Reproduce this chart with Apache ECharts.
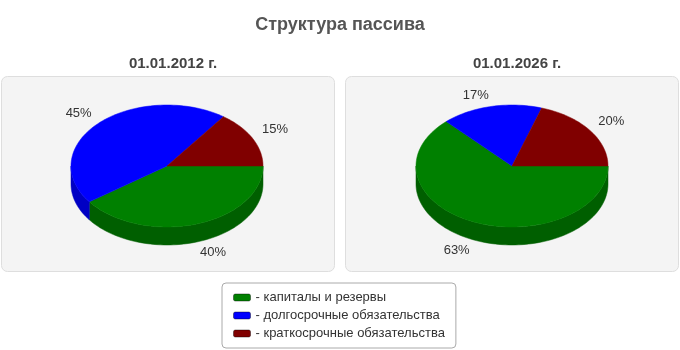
<!DOCTYPE html>
<html>
<head>
<meta charset="utf-8">
<script src="https://cdn.jsdelivr.net/npm/echarts@6/dist/echarts.min.js"></script>
<style>
  html, body { margin: 0; padding: 0; background: #fff; }
  #chart { width: 680px; height: 350px; }
</style>
</head>
<body>
<div id="chart"></div>
<script>
var chartTitle = 'Структура пассива';
var dates = ['01.01.2012 г.', '01.01.2026 г.'];
var categories = ['капиталы и резервы', 'долгосрочные обязательства', 'краткосрочные обязательства'];
// доли по датам, %
var share2012 = [40, 45, 15];
var share2026 = [63, 17, 20];
var topColors = ['#008000', '#0000ff', '#800000'];
var sideColors = ['#005f00', '#0000c4', '#5a0000'];

var shares = [share2012, share2026];
var pieCenters = [[167, 166], [512, 166]];
var RX = 96, RY = 61, DEPTH = 18;

function sliceRange(values, idx){
	var total = 0, before = 0;
	for(var i=0;i<values.length;i++){
		total += values[i];
		if(i < idx) before += values[i];
	}
	return [before / total * 2 * Math.PI, (before + values[idx]) / total * 2 * Math.PI];
}

function arcPoints(cx, cy, a0, a1, dy){
	var pts = [];
	var steps = Math.max(2, Math.ceil((a1 - a0) / (Math.PI / 90)));
	for(var i=0;i<=steps;i++){
		var t = a0 + (a1 - a0) * i / steps;
		pts.push([cx + RX * Math.cos(t), cy + RY * Math.sin(t) + dy]);
	}
	return pts;
}

function makeRender(catIdx){
	return function(params, api){
		var p = api.value(0);
		var c = pieCenters[p];
		var r = sliceRange(shares[p], catIdx);
		var children = [];
		// передняя боковая стенка
		var s0 = Math.max(r[0], 0), s1 = Math.min(r[1], Math.PI);
		if(s1 > s0){
			var front = arcPoints(c[0], c[1], s0, s1, 0);
			var back = arcPoints(c[0], c[1], s0, s1, DEPTH).reverse();
			children.push({
				type: 'polygon',
				shape: {points: front.concat(back)},
				style: {fill: sideColors[catIdx], stroke: sideColors[catIdx], lineWidth: 0.5}
			});
		}
		// верх
		var top = [[c[0], c[1]]].concat(arcPoints(c[0], c[1], r[0], r[1], 0));
		children.push({
			type: 'polygon',
			shape: {points: top},
			style: {fill: topColors[catIdx], stroke: topColors[catIdx], lineWidth: 0.5}
		});
		// подпись
		var mid = (r[0] + r[1]) / 2;
		var cs = Math.cos(mid), sn = Math.sin(mid);
		var lx = c[0] + RX * 1.11 * cs;
		var ly = c[1] + RY * 1.07 * sn + (sn > 0 ? DEPTH : 0);
		children.push({
			type: 'text',
			x: lx, y: ly,
			style: {
				text: shares[p][catIdx] + '%',
				fill: '#333',
				font: '13px "Liberation Sans", Arial, sans-serif',
				align: cs >= 0 ? 'left' : 'right',
				verticalAlign: sn >= 0 ? 'top' : 'bottom'
			}
		});
		return {type: 'group', children: children};
	};
}

var series = [];
for(var i=0;i<categories.length;i++){
	series.push({
		name: categories[i],
		type: 'custom',
		coordinateSystem: 'none',
		renderItem: makeRender(i),
		itemStyle: {color: topColors[i]},
		data: [[0], [1]],
		animation: false
	});
}

var myChart = echarts.init(document.getElementById('chart'));
var option = {
	backgroundColor: '#fff',
	textStyle: {fontFamily: '"Liberation Sans", Arial, sans-serif'},
	title: [
		{text: chartTitle, left: 'center', top: 11,
			textStyle: {fontSize: 18, fontWeight: 'bold', color: '#555'}},
		{text: dates[0], left: 168, textAlign: 'center', top: 51,
			textStyle: {fontSize: 15, fontWeight: 'bold', color: '#444'}},
		{text: dates[1], left: 512, textAlign: 'center', top: 51,
			textStyle: {fontSize: 15, fontWeight: 'bold', color: '#444'}}
	],
	graphic: [
		{type: 'rect', z: -10, shape: {x: 1.5, y: 76.5, width: 333, height: 195, r: 6},
			style: {fill: '#f4f4f4', stroke: '#dedede', lineWidth: 1}},
		{type: 'rect', z: -10, shape: {x: 345.5, y: 76.5, width: 333, height: 195, r: 6},
			style: {fill: '#f4f4f4', stroke: '#dedede', lineWidth: 1}}
	],
	legend: {
		orient: 'vertical',
		left: 222,
		top: 283,
		padding: [7, 11, 7, 11],
		itemGap: 3,
		itemWidth: 17,
		itemHeight: 7,
		icon: 'roundRect',
		backgroundColor: '#fff',
		borderColor: '#aaa',
		borderWidth: 1,
		borderRadius: 4,
		selectedMode: false,
		formatter: '- {name}',
		itemStyle: {borderColor: 'rgba(0,0,0,0.4)', borderWidth: 1},
		textStyle: {fontSize: 13, color: '#333', lineHeight: 15},
		data: categories
	},
	series: series
};
myChart.setOption(option);
</script>
</body>
</html>
